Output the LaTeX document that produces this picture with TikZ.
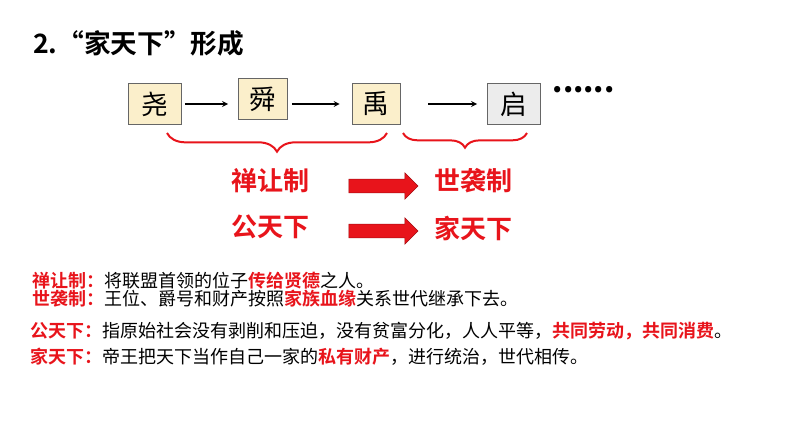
\documentclass[tikz,border=0pt]{standalone}
\usepackage{fontspec}
\setmainfont{Noto Sans CJK SC}
\newfontfamily\cjkb{Noto Sans CJK SC Bold}
\usetikzlibrary{decorations.pathreplacing,shapes.arrows,calc}
\definecolor{rd}{HTML}{E8141B}
\definecolor{by}{HTML}{FBEFCB}
\begin{document}
\begin{tikzpicture}[x=0.75pt,y=-0.75pt,
  hbox/.style={draw=gray!80!black,fill=by,minimum width=40pt,minimum height=31pt,inner sep=0pt,font=\fontsize{20}{20}\selectfont},
  conn/.style={->,>=stealth,line width=1pt},
  brc/.style={draw=rd,line width=1.5pt,decorate,decoration={brace,mirror,amplitude=14pt}},
  lab/.style={text=rd,font=\cjkb\fontsize{19.5}{19.5}\selectfont},
  bigarr/.style={single arrow,fill=rd,draw=rd!70!black,minimum height=52pt,minimum width=20pt,single arrow head extend=3pt,inner sep=3pt},
  txt/.style={anchor=west,font=\fontsize{13.5}{15}\selectfont,inner sep=0pt}]
\path[use as bounding box,fill=white] (0,0) rectangle (794,447);
\node[font=\cjkb\fontsize{20}{20}\selectfont,anchor=west,inner sep=0pt] (title) at (33,43) {2.“家天下”形成};
\node[hbox] (yao) at (155,104) {尧};
\node[hbox,minimum width=37pt] (shun) at (263,99) {舜};
\node[hbox,minimum width=36pt] (yu) at (376,104) {禹};
\node[hbox,fill=gray!15] (qi) at (514,104) {启};
\node[font=\bfseries\fontsize{22}{22}\selectfont,anchor=west] (dots) at (548,90) {......};
\draw[conn] ($(yao.east)+(3,0)$) -- ($(shun.west)+(-10,5)$);
\draw[conn] ($(shun.east)+(4,5)$) -- ($(yu.west)+(-12,0)$);
\draw[conn] ($(yu.east)+(28,0)$) -- ($(qi.west)+(-10,0)$);
\coordinate (b1) at (167,133); \coordinate (b2) at (387,133);
\coordinate (b3) at (403,133); \coordinate (b4) at (527,133);
\draw[brc] (b1) -- (b2);
\draw[brc,decoration={amplitude=11pt}] (b3) -- (b4);
\node[lab] (sr) at (270,181) {禅让制};
\node[lab] (sx) at (473,181) {世袭制};
\node[lab] (gt) at (270,227) {公天下};
\node[lab] (jt) at (473,228) {家天下};
\node[bigarr] (ar1) at (380,186) {};
\node[bigarr] (ar2) at (380,231) {};
\node[txt] (l1) at (32,281) {\textcolor{rd}{\cjkb 禅让制：}将联盟首领的位子\textcolor{rd}{\cjkb 传给贤德}之人。};
\node[txt] (l2) at (32,299) {\textcolor{rd}{\cjkb 世袭制：}王位、爵号和财产按照\textcolor{rd}{\cjkb 家族血缘}关系世代继承下去。};
\node[txt] (l3) at (30,331) {\textcolor{rd}{\cjkb 公天下：}指原始社会没有剥削和压迫，没有贫富分化，人人平等，\textcolor{rd}{\cjkb 共同劳动，共同消费}。};
\node[txt] (l4) at (30,357) {\textcolor{rd}{\cjkb 家天下：}帝王把天下当作自己一家的\textcolor{rd}{\cjkb 私有财产}，进行统治，世代相传。};
\end{tikzpicture}
\end{document}
